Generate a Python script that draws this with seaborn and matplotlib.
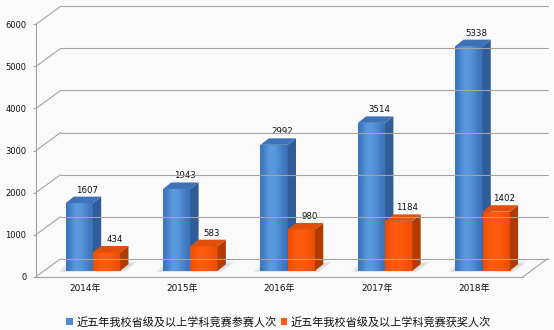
import numpy as np
import pandas as pd
import matplotlib
matplotlib.use('Agg')
import matplotlib.pyplot as plt
import seaborn as sns
from matplotlib.patches import Polygon, Patch
from matplotlib.lines import Line2D
from matplotlib.transforms import ScaledTranslation, IdentityTransform
from matplotlib.colors import to_rgb

# ---- data ----
years = ['2014年', '2015年', '2016年', '2017年', '2018年']
participants = [1607, 1943, 2992, 3514, 5338]
winners = [434, 583, 980, 1184, 1402]
series_names = ['近五年我校省级及以上学科竞赛参赛人次', '近五年我校省级及以上学科竞赛获奖人次']
y_ticks = [0, 1000, 2000, 3000, 4000, 5000, 6000]

# ---- style ----
BG = '#FAFAFA'
GRID = '#A3A3A3'
BLUE = '#4A88D2'
ORANGE = '#FF5A0C'
FACE_GRAD = {
    BLUE: ['#3B74BE', '#5C9BE0', '#5B99DE', '#4C88D0', '#3C72B8'],
    ORANGE: ['#F04E06', '#FF5E12', '#FF5A0E', '#FC560B', '#EC4E06'],
}
SIDE = {BLUE: '#2F5D9A', ORANGE: '#B03C02'}
TOP = {BLUE: '#3E72B8', ORANGE: '#E0500A'}
TEXT = '#111111'

sns.set_theme(style='white')
plt.rcParams['font.family'] = ['DejaVu Sans', 'Noto Sans CJK SC']

W, H, DPI = 554, 330, 100
fig = plt.figure(figsize=(W / DPI, H / DPI), dpi=DPI, facecolor=BG)
ax = fig.add_axes([36 / W, (H - 276.7) / H, (523 - 36) / W, (276.7 - 24.3) / H])
ax.set_facecolor('none')

df = pd.DataFrame({
    'year': years * 2,
    'value': participants + winners,
    'series': [series_names[0]] * len(years) + [series_names[1]] * len(years),
})
sns.barplot(data=df, x='year', y='value', hue='series', palette=[BLUE, ORANGE],
            width=0.56, saturation=1, ax=ax, legend=False, errorbar=None)
ax.set_xlim(-0.5, len(years) - 0.5)
ax.set_ylim(0, max(y_ticks))

# perspective offsets (pixels)
WALL_DX, WALL_DY = 24.7, 18.0     # full floor depth
BAR_DX0, BAR_DY0 = 8.2, 6.0       # front face of bars sits this far back
BAR_DX, BAR_DY = 8.3, 6.5         # depth of each bar

to_disp = ax.transData.transform
ident = IdentityTransform()

# ---- walls: side-wall diagonals, back-wall gridlines, floor ----
ax_left = ax.get_position().x0 * W
ax_right = ax.get_position().x1 * W
for t in y_ticks:
    yd = to_disp((0, t))[1]
    fig.add_artist(Line2D([ax_left, ax_left + WALL_DX], [yd, yd + WALL_DY],
                          transform=ident, color=GRID, lw=0.8, zorder=0.5))
    fig.add_artist(Line2D([ax_left + WALL_DX, ax_right + WALL_DX], [yd + WALL_DY, yd + WALL_DY],
                          transform=ident, color=GRID, lw=0.8, zorder=0.5))
y0d = to_disp((0, 0))[1]
fig.add_artist(Line2D([ax_right, ax_right + WALL_DX], [y0d, y0d + WALL_DY],
                      transform=ident, color=GRID, lw=0.8, zorder=0.5))

for s in ['top', 'right']:
    ax.spines[s].set_visible(False)
for s in ['left', 'bottom']:
    ax.spines[s].set_color(GRID)
    ax.spines[s].set_linewidth(0.8)

# ---- 3D bars ----
shift = ax.transData + ScaledTranslation(BAR_DX0 / DPI, BAR_DY0 / DPI, fig.dpi_scale_trans)
bars = []
for cont in ax.containers:
    for p in cont:
        bars.append(p)
bars.sort(key=lambda p: p.get_x())

# soft floor shadow under each pair of bars
for i in range(0, len(bars), 2):
    left, right = bars[i], bars[i + 1]
    gx0 = to_disp((left.get_x(), 0))[0] + BAR_DX0
    gx1 = to_disp((right.get_x() + right.get_width(), 0))[0] + BAR_DX0
    gy = y0d + BAR_DY0
    for grow in (5, 3.5, 2, 0.5):
        pts = [(gx0 - grow - 2, gy - grow * 0.3), (gx1 + grow, gy - grow * 0.3),
               (gx1 + BAR_DX + grow + 4, gy + BAR_DY + grow * 0.5),
               (gx0 + BAR_DX - grow - 2, gy + BAR_DY + grow * 0.5)]
        ax.add_patch(Polygon(pts, closed=True, transform=ident, facecolor='#7A7A7A',
                             edgecolor='none', alpha=0.07, zorder=1, clip_on=False))

for k, p in enumerate(bars):
    col = matplotlib.colors.to_hex(p.get_facecolor())
    key = BLUE if col.lower() == BLUE.lower() else ORANGE
    x0, w, h = p.get_x(), p.get_width(), p.get_height()
    z = 2 + k * 0.1
    p.set_transform(shift)
    p.set_zorder(z)
    p.set_edgecolor('none')
    grad = np.array([[to_rgb(c) for c in FACE_GRAD[key]]])
    ax.imshow(grad, extent=(x0, x0 + w, 0, h), aspect='auto', transform=shift,
              interpolation='bicubic', zorder=z + 0.01)
    (fx0, fy0) = to_disp((x0, 0)) + (BAR_DX0, BAR_DY0)
    (fx1, fy1) = to_disp((x0 + w, h)) + (BAR_DX0, BAR_DY0)
    side = Polygon([(fx1, fy0), (fx1, fy1), (fx1 + BAR_DX, fy1 + BAR_DY), (fx1 + BAR_DX, fy0 + BAR_DY)],
                   closed=True, transform=ident, facecolor=SIDE[key], edgecolor='none',
                   zorder=z + 0.03, clip_on=False)
    top = Polygon([(fx0, fy1), (fx1, fy1), (fx1 + BAR_DX, fy1 + BAR_DY), (fx0 + BAR_DX, fy1 + BAR_DY)],
                  closed=True, transform=ident, facecolor=TOP[key], edgecolor='none',
                  zorder=z + 0.06, clip_on=False)
    ax.add_patch(side)
    ax.add_patch(top)
    ax.annotate(f'{int(round(h))}', xy=(x0 + w / 2, h),
                xytext=((BAR_DX0 + BAR_DX * 0.95) * 0.72, (BAR_DY0 + BAR_DY + 2) * 0.72),
                textcoords='offset points', ha='center', va='bottom',
                fontsize=6.2, color=TEXT, zorder=10, annotation_clip=False)

ax.set_xlim(-0.5, len(years) - 0.5)
ax.set_ylim(0, max(y_ticks))

# ---- axes text ----
ax.set_yticks(y_ticks)
ax.set_yticklabels([str(t) for t in y_ticks])
ax.tick_params(axis='y', length=2, width=0.8, color=GRID, pad=5.0, labelsize=6.0, labelcolor=TEXT, left=True)
ax.tick_params(axis='x', length=0, pad=5.3, labelsize=6.4, labelcolor=TEXT)
ax.set_xlabel('')
ax.set_ylabel('')

handles = [Patch(facecolor=BLUE, edgecolor='none'), Patch(facecolor=ORANGE, edgecolor='none')]
fig.legend(handles, series_names, loc='center', bbox_to_anchor=(0.503, 0.024), ncol=2,
           frameon=False, fontsize=8.0, handlelength=0.55, handleheight=0.55,
           handletextpad=0.35, columnspacing=0.35, borderaxespad=0, labelcolor=TEXT)

fig.savefig('out.png', dpi=DPI, facecolor=BG)
